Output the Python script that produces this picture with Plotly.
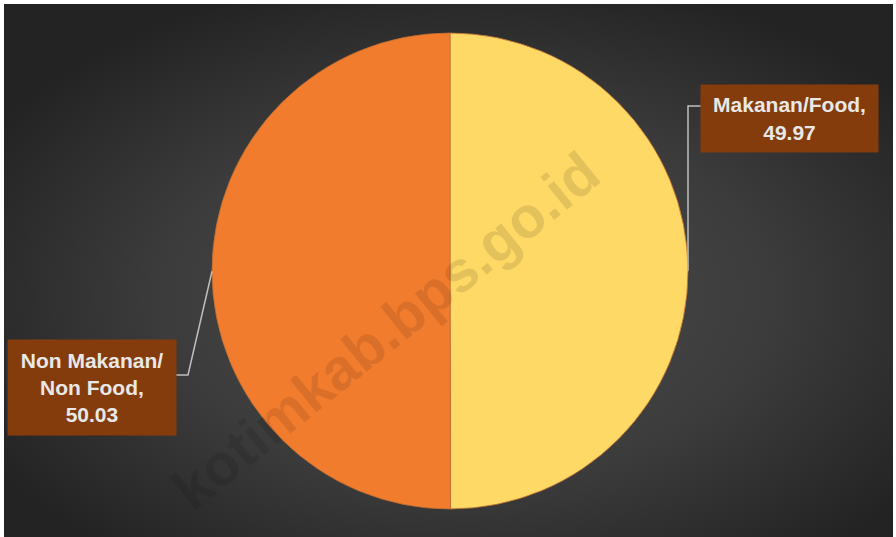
import base64
import math
import plotly.graph_objects as go

# ---- data ----
categories = ["Makanan/Food", "Non Makanan/<br>Non Food"]
values = [49.97, 50.03]
slice_colors = ["#FED966", "#F27C2E"]
label_texts = ["<b>Makanan/Food,<br>49.97</b>", "<b>Non Makanan/<br>Non Food,<br>50.03</b>"]

W, H = 896, 537

def px(x):
    return x / W

def py(y):
    return 1 - y / H

# pie geometry (pixels)
cx, cy, r = 450, 271, 238

# background radial gradient
svg = (
    "<svg xmlns='http://www.w3.org/2000/svg' width='890' height='533' viewBox='0 0 890 533' preserveAspectRatio='none'>"
    "<defs><radialGradient id='g' cx='52%' cy='55%' r='62%'>"
    "<stop offset='0' stop-color='#4c4c4c'/><stop offset='0.55' stop-color='#3c3c3c'/><stop offset='1' stop-color='#232323'/>"
    "</radialGradient></defs><rect width='890' height='533' fill='url(#g)'/></svg>"
)
bg_uri = "data:image/svg+xml;base64," + base64.b64encode(svg.encode()).decode()

fig = go.Figure()
fig.add_trace(go.Pie(
    labels=categories,
    values=values,
    sort=False,
    direction="clockwise",
    rotation=0,
    textinfo="none",
    hoverinfo="label+value",
    marker=dict(colors=slice_colors, line=dict(color="rgba(190,110,50,0.8)", width=1)),
    domain=dict(x=[px(cx - r), px(cx + r)], y=[py(cy + r), py(cy - r)]),
    showlegend=False,
))

# slice mid angles -> leader line start points
total = sum(values)
cum = 0
mids = []
for v in values:
    mids.append((cum + v / 2) / total * 360)
    cum += v
edges = [(cx + r * math.sin(math.radians(a)), cy - r * math.cos(math.radians(a))) for a in mids]

# label boxes (pixel layout)
boxes = [(701, 85, 878, 152), (8, 340, 176, 435)]
elbows = [[(edges[0][0], 106), (701, 106)], [(188, 375), (176, 375)]]

annotations = [
    dict(text="<b>kotimkab.bps.go.id</b>", x=px(385), y=py(330), xref="paper", yref="paper",
         showarrow=False, textangle=-39,
         font=dict(family="Liberation Sans, Arial", size=58, color="rgba(0,0,0,0.10)")),
]
shapes = []
for i, (x0, y0, x1, y1) in enumerate(boxes):
    annotations.append(dict(
        text=label_texts[i], x=px((x0 + x1) / 2), y=py((y0 + y1) / 2),
        xref="paper", yref="paper", xanchor="center", yanchor="middle",
        showarrow=False, bgcolor="#843C0C", borderpad=0,
        width=x1 - x0, height=y1 - y0, align="center", valign="middle",
        font=dict(family="Liberation Sans, Arial", size=21, color="#E8E8E8"),
    ))
    pts = [edges[i]] + elbows[i]
    path = "M " + " L ".join(f"{px(a):.5f},{py(b):.5f}" for a, b in pts)
    shapes.append(dict(type="path", path=path, xref="paper", yref="paper",
                       line=dict(color="#BFBFBF", width=1.5)))

fig.update_layout(
    width=W, height=H,
    margin=dict(l=0, r=0, t=0, b=0),
    paper_bgcolor="white",
    plot_bgcolor="rgba(0,0,0,0)",
    images=[dict(source=bg_uri, xref="paper", yref="paper", x=px(4), y=py(4),
                 sizex=px(893) - px(4), sizey=1 - (4 / H), sizing="stretch",
                 xanchor="left", yanchor="top", layer="below")],
    annotations=annotations,
    shapes=shapes,
    xaxis=dict(visible=False), yaxis=dict(visible=False),
)

fig.write_html("out.html", config={"displayModeBar": False},
               post_script="document.body.style.margin='0';")
